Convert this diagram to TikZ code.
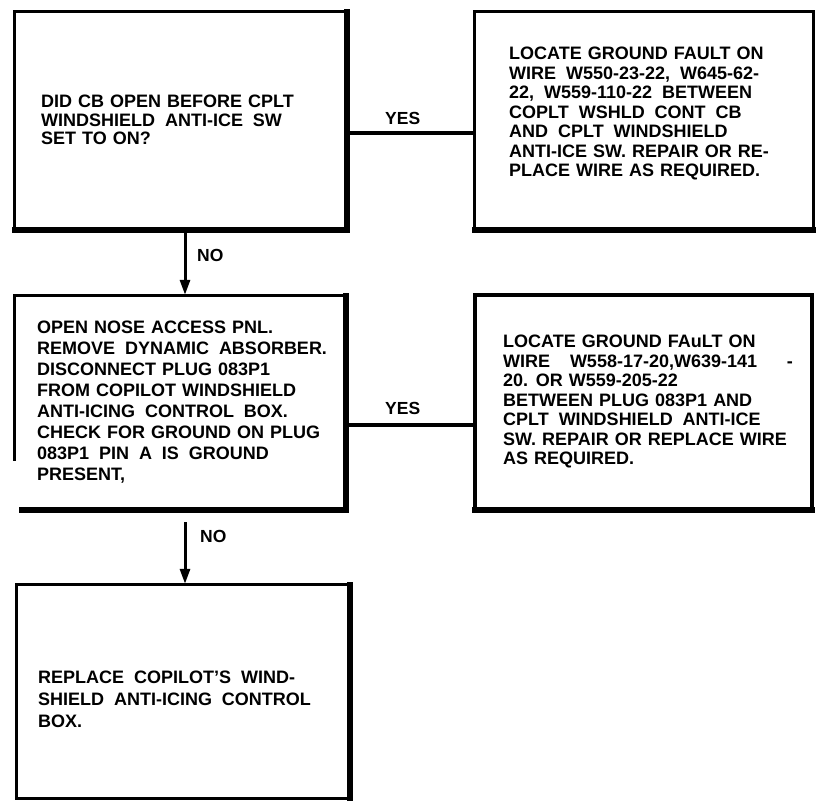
\documentclass[tikz,border=0pt]{standalone}
\usepackage{fontspec}
\setmainfont{Liberation Sans}[WordSpace=1.2]
\usetikzlibrary{arrows.meta}
\newcommand{\ws}{\hspace{0.55em}}
\tikzset{
  boxframe/.style={draw=none, rectangle, inner sep=0pt},
  thinedge/.style={line width=3pt, line cap=rect},
  thickedge/.style={line width=6pt, line cap=rect},
  btext/.style={anchor=north west, inner sep=0pt, align=left, font=\bfseries\fontsize{18}{#1}\selectfont},
  lbl/.style={anchor=north west, inner sep=0pt, font=\bfseries\fontsize{17.5}{17.5}\selectfont},
  conn/.style={line width=4pt},
  arr/.style={line width=3pt, -{Triangle[length=15pt,width=10pt]}},
}
\begin{document}
\begin{tikzpicture}[x=1pt,y=-1pt]
\path[use as bounding box, fill=white] (0,0) rectangle (816,801);

% boxes
\node[boxframe, minimum width=332pt, minimum height=218pt] (b1) at (181,121) {};
\node[boxframe, minimum width=338pt, minimum height=218pt] (b2) at (644,121) {};
\node[boxframe, minimum width=331pt, minimum height=214pt] (b3) at (180.5,403) {};
\node[boxframe, minimum width=337pt, minimum height=215pt] (b4) at (643.5,402.5) {};
\node[boxframe, minimum width=333pt, minimum height=213pt] (b5) at (183.5,691.5) {};

% box 1
\draw[thinedge] (b1.south west) -- (b1.north west) -- (b1.north east);
\draw[thickedge] (b1.north east) -- (b1.south east) -- (b1.south west);
% box 2
\draw[thinedge] (b2.south west) -- (b2.north west) -- (b2.north east) -- (b2.south east);
\draw[thickedge] (b2.south east) -- (b2.south west);
% box 3
\draw[thinedge] ([yshift=-164pt]b3.north west) -- (b3.north west) -- (b3.north east);
\draw[thickedge] (b3.north east) -- (b3.south east) -- ([xshift=7pt]b3.south west);
% box 4
\draw[line width=4pt, line cap=rect] (b4.south west) -- (b4.north west) -- (b4.north east) -- (b4.south east);
\draw[thickedge] (b4.south east) -- (b4.south west);
% box 5
\draw[thinedge] (b5.north east) -- (b5.north west) -- (b5.south west) -- (b5.south east);
\draw[thickedge] (b5.north east) -- (b5.south east);

% texts
\node[btext=18.5] (t1) at (41,95) {DID CB OPEN BEFORE CPLT\\WINDSHIELD\ws ANTI-ICE\ws SW\\SET TO ON?};
\node[btext=19.5] (t2) at (509,47) {LOCATE GROUND FAULT ON\\WIRE\ws W550-23-22,\ws W645-62-\\22,\ws W559-110-22\ws BETWEEN\\COPLT\ws WSHLD\ws CONT\ws CB\\AND\ws CPLT\ws WINDSHIELD\\ANTI-ICE SW. REPAIR OR RE-\\PLACE WIRE AS REQUIRED.};
\node[btext=21] (t3) at (37,321) {OPEN NOSE ACCESS PNL.\\REMOVE\ws DYNAMIC\ws ABSORBER.\\DISCONNECT PLUG 083P1\\FROM COPILOT WINDSHIELD\\ANTI-ICING\ws CONTROL\ws BOX.\\CHECK FOR GROUND ON PLUG\\083P1\ws PIN\ws A\ws IS\ws GROUND\\PRESENT,};
\node[btext=19.5] (t4) at (503,335) {LOCATE GROUND FAuLT ON\\WIRE\ws\ws W558-17-20,W639-141\ws\ws\ws -\\20. OR W559-205-22\\BETWEEN PLUG 083P1 AND\\CPLT\ws WINDSHIELD\ws ANTI-ICE\\SW. REPAIR OR REPLACE WIRE\\AS REQUIRED.};
\node[btext=22] (t5) at (38,671) {REPLACE\ws COPILOT’S\ws WIND-\\SHIELD\ws ANTI-ICING\ws CONTROL\\BOX.};

% connectors
\draw[conn] ([yshift=-12pt]b2.west) -- ([yshift=-12pt]b1.east);
\node[lbl] (yes1) at (385,112) {YES};
\draw[arr, shorten >=1pt] ([xshift=4pt]b1.south) -- ([xshift=4.5pt]b3.north);
\node[lbl] (no1) at (197,249) {NO};
\draw[conn] ([yshift=-22.5pt]b4.west) -- ([yshift=-22pt]b3.east);
\node[lbl] (yes2) at (385,402) {YES};
\draw[arr, shorten <=12pt, shorten >=1pt] ([xshift=4.5pt]b3.south) -- ([xshift=1.5pt]b5.north);
\node[lbl] (no2) at (200,530) {NO};
\end{tikzpicture}
\end{document}
